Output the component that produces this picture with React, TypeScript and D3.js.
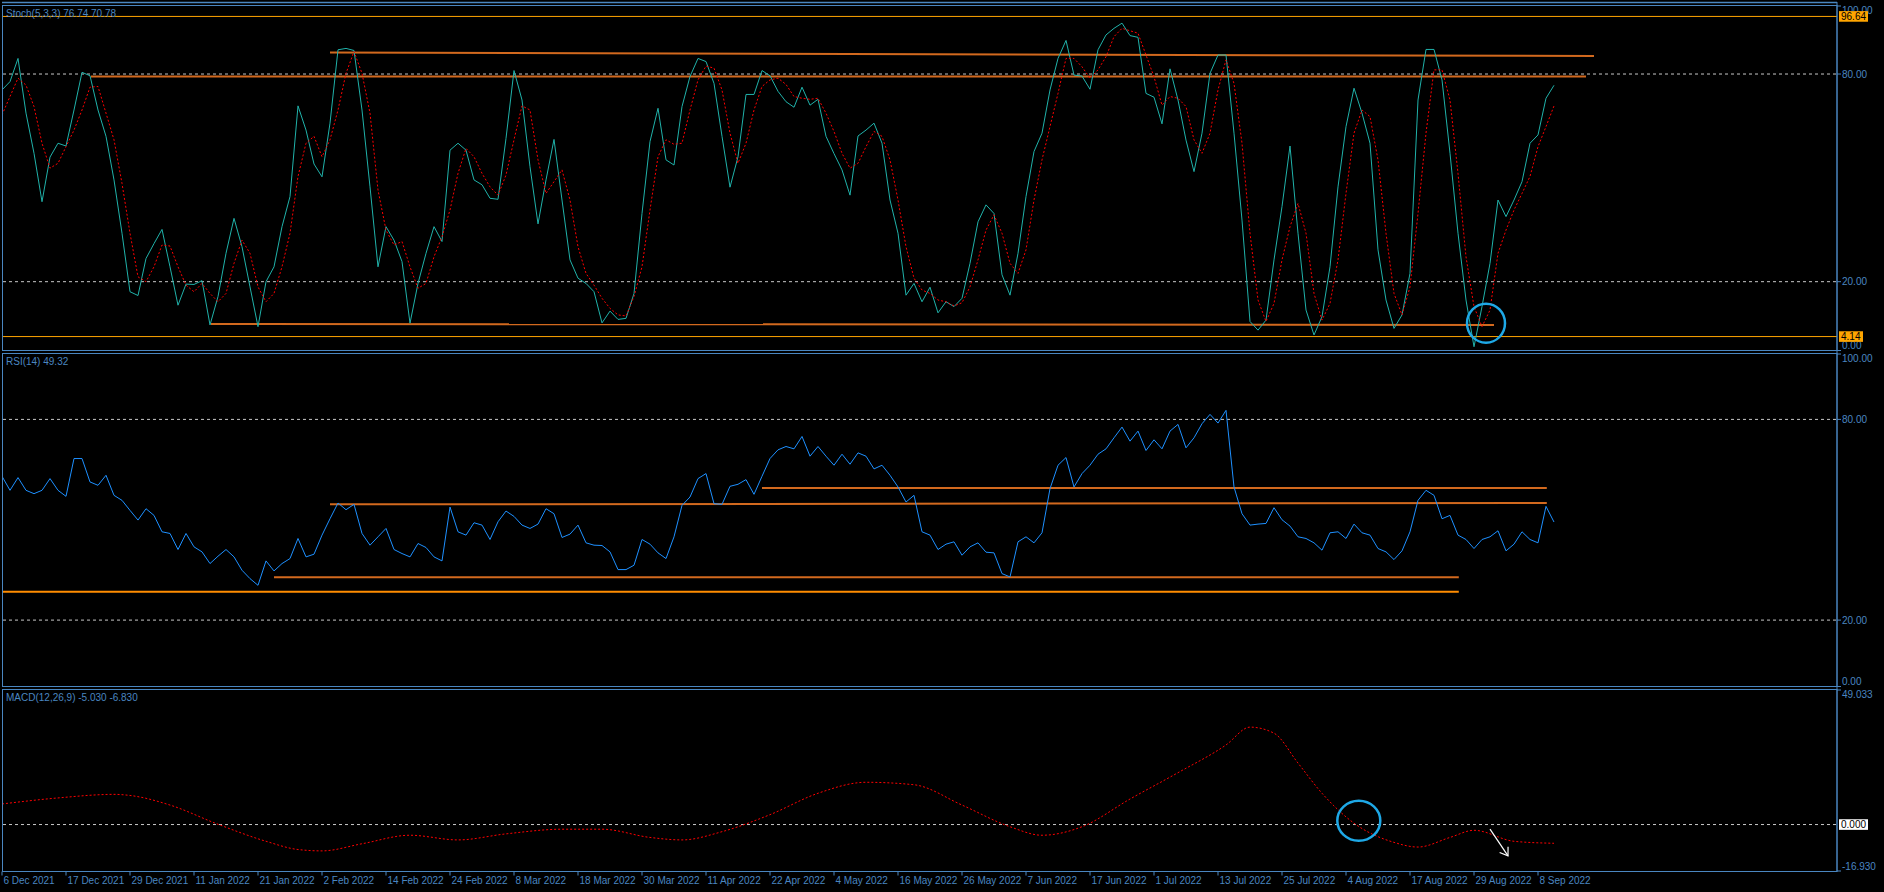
import * as d3 from "d3";
import React from "react";

// x-axis tick labels, one every 8 bars
const dateLabels = [
  "6 Dec 2021", "17 Dec 2021", "29 Dec 2021", "11 Jan 2022", "21 Jan 2022",
  "2 Feb 2022", "14 Feb 2022", "24 Feb 2022", "8 Mar 2022", "18 Mar 2022",
  "30 Mar 2022", "11 Apr 2022", "22 Apr 2022", "4 May 2022", "16 May 2022",
  "26 May 2022", "7 Jun 2022", "17 Jun 2022", "1 Jul 2022", "13 Jul 2022",
  "25 Jul 2022", "4 Aug 2022", "17 Aug 2022", "29 Aug 2022", "8 Sep 2022",
];

// Stochastic %K (main) per bar
const stochMain = [
  75.4, 77.8, 84.5, 68.7, 57.1, 43.1, 56, 60, 59.2, 69.6,
  80.5, 79.5, 69.6, 62, 49.4, 34, 17.1, 16, 26.7, 31,
  35.1, 24.3, 13.2, 19.3, 19.2, 20.3, 7.5, 15.7, 28.2, 38.3,
  30.1, 18.5, 7, 20, 24.3, 35.9, 44.6, 70.8, 63.8, 54,
  50.3, 65.8, 87, 87.4, 86.8, 69.6, 47.4, 24.3, 35.9, 32,
  25.8, 8, 19.5, 28.2, 35.9, 31.6, 58, 60, 58, 49.4,
  48, 44.1, 43.8, 61.4, 81, 72.5, 53.2, 36.7, 49.4, 61.1,
  43.6, 26.3, 21, 19.5, 17.1, 8.1, 11.5, 9.1, 9.4, 16.6,
  39.7, 60.5, 70.1, 55.2, 53.7, 70.6, 79.3, 84.5, 83.6, 77.3,
  62, 47.3, 56.1, 74.1, 74.1, 81, 79.5, 75, 72, 70.4,
  76.2, 71, 72.7, 62, 57, 52.3, 45, 62.1, 63.8, 65.8,
  60, 43.6, 34, 16.1, 19.5, 14.2, 18.4, 11, 14.2, 12.8,
  15.2, 25.3, 37.3, 42.2, 39.7, 22, 16.1, 28.2, 44.6, 57.6,
  62.9, 75.4, 84.5, 89.7, 79.7, 79.4, 75.6, 87, 91.3, 93.2,
  94.7, 91.1, 90.6, 74.4, 73.3, 65.6, 81.5, 72.5, 60.9, 51.8,
  62.9, 80.2, 85.5, 85.5, 62.9, 37.8, 8.5, 6, 8.9, 26.3,
  41.7, 59.2, 34, 11.8, 4.6, 9.9, 24.3, 47.4, 64.8, 75.9,
  68.7, 60, 29.2, 14.7, 6.5, 10.4, 22.4, 72.5, 87.1, 87.1,
  78.3, 57.1, 34, 14.7, 1.2, 12.8, 25.3, 43.6, 38.8, 43.6,
  48.9, 60, 62.4, 73, 76.74,
];

// Stochastic %D (signal) per bar
const stochSignal = [
  68.2, 73.5, 78.8, 76.8, 70.6, 60, 52.8, 54.2, 59, 63.8,
  69.6, 76.2, 76.4, 68.7, 61, 48.4, 34, 21.4, 20, 24.3,
  30.6, 30.3, 24.3, 19, 17.1, 19.5, 16.6, 14.2, 16.6, 25.3,
  32, 28.2, 18.5, 14.2, 16.6, 24.3, 34, 50.4, 60, 62,
  56.1, 61, 69.6, 80.2, 86.5, 80.2, 68.7, 46.5, 34.9, 30.6,
  31.6, 24.3, 18.1, 19.5, 27.2, 33, 40.7, 51.3, 58.5, 56.1,
  51.3, 47.4, 45, 50.8, 61, 70.8, 69.6, 55.2, 45.5, 48.9,
  52.3, 43.6, 30.1, 22.4, 19, 15.2, 12.3, 10.4, 10.1, 15.7,
  24.3, 40.7, 56.1, 61, 59.7, 60, 69.6, 78.3, 82.3, 81.7,
  75.4, 62.9, 54.2, 60, 69.6, 76.4, 78.3, 78.8, 77, 73.5,
  73, 72.7, 73, 68.7, 63.4, 57.1, 52.8, 54.2, 59, 63.4,
  62, 55.2, 43.6, 30.1, 21, 17.6, 16.6, 14.7, 14.2, 13,
  13.9, 18.5, 26.3, 34.9, 39.3, 34, 25.3, 22.4, 29.2, 43.6,
  55.2, 64.8, 74.4, 84.5, 84.5, 82.1, 78.8, 81.2, 85, 90.8,
  93.2, 92.5, 91.8, 85.5, 79.2, 71, 73.5, 73, 70.6, 61,
  57.1, 62.9, 75.4, 84.1, 77.3, 60, 34, 14.7, 8.5, 13.7,
  26.3, 35.9, 42.6, 34, 16.6, 8.9, 13.7, 26.3, 45.5, 62.9,
  69.6, 67.7, 55.2, 34, 16.6, 10.4, 18.5, 39.7, 62.9, 81.2,
  81.2, 72.5, 51.3, 27.2, 12.8, 7, 11.8, 28.2, 34.9, 40.7,
  45.5, 50.4, 59, 64.8, 70.78,
];

// RSI(14) per bar
const rsiValues = [
  63, 58.8, 62.6, 58.8, 57.8, 58.8, 62.3, 58.8, 57, 68.3,
  68.3, 61.3, 60.3, 63.3, 57.3, 55.8, 52.8, 49.9, 53.3, 51.3,
  46.4, 45.9, 41.1, 45.9, 41.9, 40.4, 36.9, 39.1, 41.1, 38.9,
  34.9, 32.4, 30.4, 37.7, 34.7, 36.9, 38.4, 44.4, 38.9, 39.7,
  45.4, 50.3, 55, 53, 54.6, 45.9, 42.4, 44.9, 47.4, 41.1,
  39.9, 38.9, 42.9, 41.7, 38.9, 37.7, 53.8, 46.4, 45.4, 49.1,
  48.4, 44.1, 49.4, 52.6, 51, 48.4, 47.4, 48.7, 53.3, 51.8,
  44.7, 45.7, 48.4, 43.1, 42.4, 42.3, 40.4, 35.1, 35.1, 36.4,
  44.1, 42.7, 40.1, 38.4, 44.9, 54.3, 56.8, 62.3, 63.8, 54.8,
  54.6, 60, 60.6, 62, 57.6, 63, 68.3, 70.9, 71.9, 71.2,
  74.9, 69, 71.9, 69, 66.3, 69.6, 66.6, 70, 69, 65.2,
  66.3, 63.3, 59.8, 55.3, 57.3, 46.4, 45.4, 41.1, 42.7, 43.4,
  39.4, 41.9, 43.1, 40.3, 40.1, 33.9, 32.9, 43.4, 44.9, 43.1,
  46.1, 59.3, 66.3, 68.6, 59.8, 63.8, 66.3, 69.6, 71.2, 74.5,
  77.7, 73.5, 76.5, 70.7, 73.9, 71.2, 76.5, 78.5, 71.5, 74.5,
  78.7, 81.5, 78.9, 82.7, 59.8, 51.8, 48.4, 48.7, 48.9, 53.6,
  50, 48.1, 44.9, 44.4, 43.1, 40.9, 46.1, 46.4, 44.4, 48.7,
  46.1, 45.4, 41.4, 40.4, 38.1, 40.7, 46.4, 55.8, 58.8, 57.3,
  50.3, 51.3, 45.4, 44.1, 41.4, 44.1, 44.9, 46.7, 40.7, 42.7,
  46.4, 44.1, 43.1, 54, 49.32,
];

// MACD signal line, read at these bars
const macdSignalBars = [
  0, 7, 14, 16, 21, 27, 33, 37, 40, 45, 51, 57, 63, 70, 75, 81, 85, 90, 96, 102,
  108, 114, 120, 126, 130, 135, 141, 147, 153, 156, 159, 162, 165, 169, 174, 177,
  181, 184, 189, 194,
];
const macdSignalValues = [
  7.5, 9.7, 11, 10.6, 7.1, 0.1, -6.1, -9.1, -9.6, -7, -3.9, -5.6, -3.4, -1.7, -1.7,
  -4.7, -5.6, -2.6, 3.6, 11.4, 15.4, 14.5, 7.1, -0.8, -3.9, -0.8, 9.3, 18.9, 29,
  35.5, 33.3, 22.4, 11.4, 0.5, -6.5, -8.2, -4.7, -2.1, -6.1, -6.83,
];

// drawn objects: [bar1, value1, bar2, value2]
const stochTrendlines = [
  [41, 86.2, 199, 85.2],
  [11.1, 79.3, 198, 79.3],
  [26.1, 7.8, 186.5, 7.5],
];
const stochHLines = [96.64, 4.14];
const rsiTrendlines = [
  [41, 54.6, 193.1, 55.0],
  [95, 59.5, 193.1, 59.5],
  [34, 32.8, 182.1, 32.8],
];
const rsiSupport = [0, 28.5, 182.1, 28.5];
const stochCircle = [185.5, 8.0];
const macdCircle = [169.6, 1.4];
const macdArrow = [186, -1.7, 188.25, -11.4];

const W = 1884;
const H = 892;
const AXIS_X = 1837;
const BLUE = "#4a86c0";
const TREND = "#d2691e";
const FONT = "'Liberation Sans Narrow', 'Liberation Sans', Arial, sans-serif";

const x = d3.scaleLinear().domain([0, 229.375]).range([2, AXIS_X]);

const panels = {
  stoch: { top: 5.5, bottom: 350.5, y: d3.scaleLinear().domain([0, 100]).range([350.9, 4.8]) },
  rsi: { top: 353.5, bottom: 686.5, y: d3.scaleLinear().domain([0, 100]).range([687, 352.5]) },
  macd: { top: 689.5, bottom: 871.5, y: d3.scaleLinear().domain([-16.93, 49.033]).range([871, 690]) },
};

const seriesLine = (y: d3.ScaleLinear<number, number>) =>
  d3
    .line<number>()
    .x((_, i) => x(i))
    .y((d) => y(d));

const AxisLabels: React.FC<{
  panel: { top: number; bottom: number; y: d3.ScaleLinear<number, number> };
  values: number[];
  digits: number;
}> = ({ panel, values, digits }) => (
  <g>
    {values.map((v) => {
      const ty = Math.min(Math.max(panel.y(v), panel.top + 0.5), panel.bottom);
      const ly = Math.min(Math.max(panel.y(v), panel.top + 4.5), panel.bottom - 5.5);
      return (
        <g key={v}>
          <line x1={AXIS_X} x2={AXIS_X + 4} y1={ty} y2={ty} stroke={BLUE} />
          <text x={AXIS_X + 5} y={ly} dy="0.35em" fill={BLUE} fontSize={10} fontFamily={FONT}>
            {v.toFixed(digits)}
          </text>
        </g>
      );
    })}
  </g>
);

const PriceBox: React.FC<{ y: number; text: string; bg: string }> = ({ y, text, bg }) => {
  const w = text.length * 5 + 4;
  return (
    <g>
      <rect x={AXIS_X + 2} y={y - 5.3} width={w} height={10.6} fill={bg} />
      <text x={AXIS_X + 4} y={y} dy="0.35em" fill="#000" fontSize={10} fontFamily={FONT}>
        {text}
      </text>
    </g>
  );
};

const Level: React.FC<{ y: number }> = ({ y }) => (
  <line x1={3} x2={AXIS_X} y1={y} y2={y} stroke="#c8c8c8" strokeDasharray="3,3" />
);

const App: React.FC = () => {
  const { stoch, rsi, macd } = panels;

  const macdLine = d3
    .line<number>()
    .x((_, i) => x(macdSignalBars[i]))
    .y((d) => macd.y(d))
    .curve(d3.curveMonotoneX);

  const trend = (t: number[], y: d3.ScaleLinear<number, number>, color: string, key: string) => (
    <line key={key} x1={x(t[0])} y1={y(t[1])} x2={x(t[2])} y2={y(t[3])} stroke={color} strokeWidth={2} />
  );

  const ax1 = x(macdArrow[0]);
  const ay1 = macd.y(macdArrow[1]);
  const ax2 = x(macdArrow[2]);
  const ay2 = macd.y(macdArrow[3]);
  const ang = Math.atan2(ay2 - ay1, ax2 - ax1);
  const head = [ang + Math.PI - 0.6, ang + Math.PI + 0.6].map((a) => [ax2 + 9 * Math.cos(a), ay2 + 9 * Math.sin(a)]);

  return (
    <svg width={W} height={H} style={{ position: "fixed", left: 0, top: 0, background: "#000" }}>
      <defs>
        <clipPath id="clipStoch">
          <rect x={3} y={stoch.top} width={AXIS_X - 3} height={stoch.bottom - stoch.top} />
        </clipPath>
        <clipPath id="clipRsi">
          <rect x={3} y={rsi.top} width={AXIS_X - 3} height={rsi.bottom - rsi.top} />
        </clipPath>
        <clipPath id="clipMacd">
          <rect x={3} y={macd.top} width={AXIS_X - 3} height={macd.bottom - macd.top} />
        </clipPath>
      </defs>
      <rect width={W} height={H} fill="#000" />

      {/* borders */}
      <line x1={2} x2={AXIS_X} y1={2.5} y2={2.5} stroke={BLUE} strokeWidth={1.5} />
      {[stoch, rsi, macd].map((p, i) => (
        <rect key={i} x={2.5} y={p.top} width={AXIS_X - 2.5} height={p.bottom - p.top} fill="none" stroke={BLUE} />
      ))}

      {/* Stochastic */}
      <g clipPath="url(#clipStoch)">
        {[80, 20].map((v) => (
          <Level key={v} y={stoch.y(v)} />
        ))}
        {stochHLines.map((v) => (
          <line key={v} x1={3} x2={AXIS_X} y1={stoch.y(v)} y2={stoch.y(v)} stroke="#ffa500" />
        ))}
        {stochTrendlines.map((t, i) => trend(t, stoch.y, TREND, "st" + i))}
        <path d={seriesLine(stoch.y)(stochMain) || ""} fill="none" stroke="#20b2aa" />
        <path d={seriesLine(stoch.y)(stochSignal) || ""} fill="none" stroke="#ff0000" strokeDasharray="2,2" />
        <ellipse cx={x(stochCircle[0])} cy={stoch.y(stochCircle[1])} rx={19} ry={19.5} fill="none" stroke="#1ea8e6" strokeWidth={2.5} />
      </g>
      <text x={6} y={17} fill={BLUE} fontSize={10} fontFamily={FONT}>
        Stoch(5,3,3) 76.74 70.78
      </text>
      <AxisLabels panel={stoch} values={[100, 80, 20, 0]} digits={2} />
      <PriceBox y={stoch.y(96.64)} text="96.64" bg="#ffa500" />
      <PriceBox y={stoch.y(4.14)} text="4.14" bg="#ffa500" />

      {/* RSI */}
      <g clipPath="url(#clipRsi)">
        {[80, 20].map((v) => (
          <Level key={v} y={rsi.y(v)} />
        ))}
        {rsiTrendlines.map((t, i) => trend(t, rsi.y, TREND, "rt" + i))}
        {trend(rsiSupport, rsi.y, "#ff8c00", "rs")}
        <path d={seriesLine(rsi.y)(rsiValues) || ""} fill="none" stroke="#1e90ff" />
      </g>
      <text x={6} y={365} fill={BLUE} fontSize={10} fontFamily={FONT}>
        RSI(14) 49.32
      </text>
      <AxisLabels panel={rsi} values={[100, 80, 20, 0]} digits={2} />

      {/* MACD */}
      <g clipPath="url(#clipMacd)">
        <Level y={macd.y(0)} />
        <path d={macdLine(macdSignalValues) || ""} fill="none" stroke="#ff0000" strokeDasharray="2,2" />
        <ellipse cx={x(macdCircle[0])} cy={macd.y(macdCircle[1])} rx={21.5} ry={20} fill="none" stroke="#1ea8e6" strokeWidth={2.5} />
        <line x1={ax1} y1={ay1} x2={ax2} y2={ay2} stroke="#fff" strokeWidth={1.2} />
        <polyline points={`${head[0][0]},${head[0][1]} ${ax2},${ay2} ${head[1][0]},${head[1][1]}`} fill="none" stroke="#fff" strokeWidth={1.2} />
      </g>
      <text x={6} y={701} fill={BLUE} fontSize={10} fontFamily={FONT}>
        MACD(12,26,9) -5.030 -6.830
      </text>
      <AxisLabels panel={macd} values={[49.033, -16.93]} digits={3} />
      <PriceBox y={macd.y(0)} text="0.000" bg="#ffffff" />

      {/* time axis */}
      <line x1={AXIS_X} x2={AXIS_X} y1={2} y2={macd.bottom} stroke={BLUE} />
      {dateLabels.map((label, k) => {
        const tx = x(k * 8);
        return (
          <g key={label}>
            <line x1={tx} x2={tx} y1={macd.bottom} y2={macd.bottom + 4} stroke={BLUE} />
            <text x={tx + 1.5} y={884} fill={BLUE} fontSize={10} fontFamily={FONT}>
              {label}
            </text>
          </g>
        );
      })}
    </svg>
  );
};

export default App;
